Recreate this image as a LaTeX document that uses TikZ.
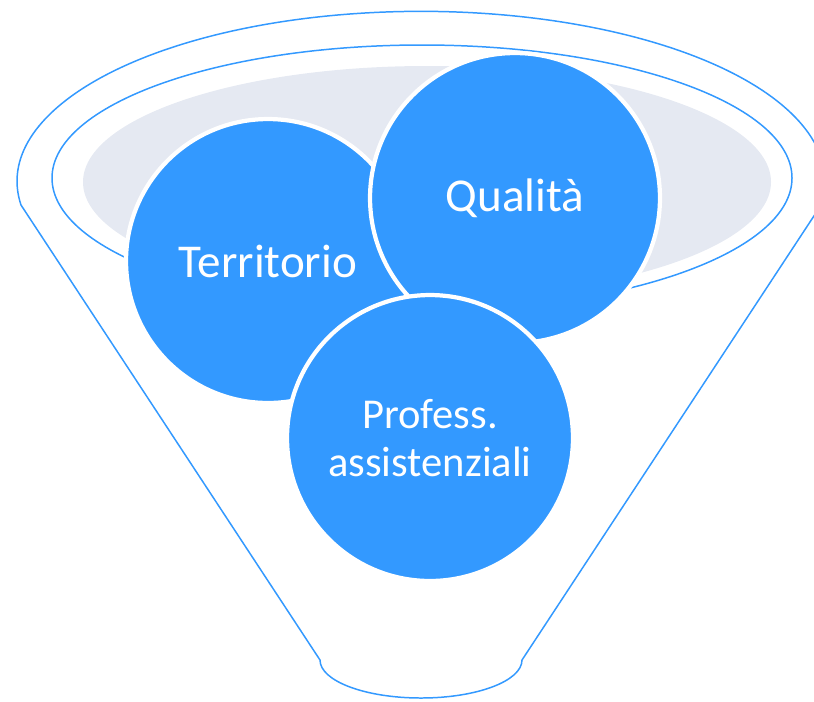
\documentclass[tikz,border=0pt]{standalone}
\usepackage{fontspec}
\setmainfont{Carlito}
\usepackage{tikz}

\definecolor{funnelblue}{RGB}{51,153,255}
\definecolor{bowlgrey}{RGB}{229,233,242}

\begin{document}
\begin{tikzpicture}[x=0.02cm, y=-0.02cm,
    rim/.style={line width=0.85pt, color=funnelblue},
    bubble/.style={circle, fill=funnelblue, draw=white, line width=2.4pt,
                   inner sep=0pt, text=white, align=center}]
    \useasboundingbox (0,0) rectangle (814,701);
    \clip (0,0) rectangle (814,701);
    % funnel outline
    \draw[rim] (21,205) arc[start angle=172, end angle=368, x radius=404, y radius=170]
        -- (522,660) arc[start angle=0, end angle=180, x radius=101, y radius=38]
        -- cycle;
    \draw[rim] (422,178) ellipse[x radius=370, y radius=133];
    \fill[bowlgrey] (427,182) ellipse[x radius=344, y radius=116];
    % bubbles
    \node[bubble, minimum size=5.68cm, font=\fontsize{26.8}{32}\selectfont] (territorio) at (268,261) {Territorio};
    \node[bubble, minimum size=5.8cm, font=\fontsize{26.8}{32}\selectfont] (qualita) at (515,198) {Qualità};
    \node[bubble, minimum size=5.72cm, font=\fontsize{24.2}{27.4}\selectfont] (profess) at (430,438) {Profess.\\assistenziali};
\end{tikzpicture}
\end{document}
